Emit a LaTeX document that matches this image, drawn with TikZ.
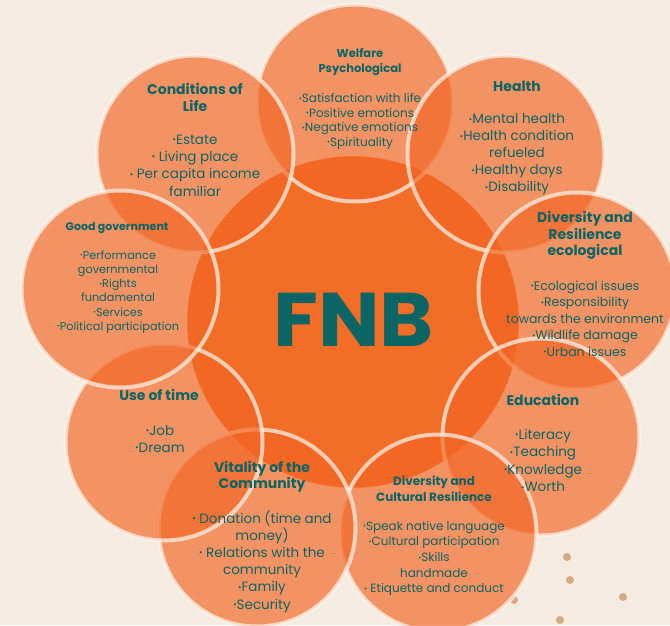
\documentclass[tikz,border=0pt]{standalone}
\usepackage{fontspec}
\setmainfont{Poppins}
\newfontfamily\fnbfont{Poppins}
\definecolor{bg}{HTML}{F5ECE1}
\definecolor{core}{HTML}{F26D25}
\definecolor{sat}{HTML}{F26522}
\definecolor{ringc}{HTML}{FBF3EA}
\definecolor{tealc}{HTML}{0B6565}
\definecolor{dotc}{HTML}{D9A886}
\newcommand{\fs}[2]{\fontsize{#1}{#2}\selectfont}
\newcommand{\bu}{\raisebox{0.12em}{\scalebox{0.62}{•}}}
\begin{document}
\begin{tikzpicture}[x=1pt,y=-1pt,
  satc/.style={circle,minimum size=197pt,inner sep=0pt,fill=sat,fill opacity=0.66,draw=ringc,draw opacity=0.72,line width=4pt},
  corec/.style={circle,minimum size=332pt,inner sep=0pt,fill=core,draw=ringc,draw opacity=0.45,line width=1pt},
  dotn/.style={circle,minimum size=8pt,inner sep=0pt,fill=dotc},
  ttl/.style={text=tealc,align=center,inner sep=0pt,font=\bfseries},
  itm/.style={text=tealc,align=center,inner sep=0pt}]
\fill[bg] (0,0) rectangle (670,625);
\useasboundingbox (0,0) rectangle (670,625);
\clip (0,0) rectangle (670,625);
% dots
\node[dotn] (d1) at (567,557) {};
\node[dotn] (d2) at (570,580) {};
\node[dotn] (d3) at (623,597) {};
\node[dotn] (d4) at (560,620) {};
\node[dotn] (d5) at (514,600) {};
% core
\node[corec] (core) at (353,322) {};
% satellites
\node[satc] (welf) at (355,103) {};
\node[satc] (cond) at (195,154) {};
\node[satc] (heal) at (506,154) {};
\node[satc] (deco) at (577,291) {};
\node[satc] (educ) at (541,437) {};
\node[satc] (dcul) at (438,533) {};
\node[satc] (vita) at (257,528) {};
\node[satc] (time) at (164,442) {};
\node[satc] (good) at (120,289) {};
% FNB
\node[text=tealc,inner sep=0pt,font=\fnbfont\bfseries\fs{76}{76}] (fnb) at (353.5,319.5) {\scalebox{1.08}[1]{FNB}};
% texts
\node[ttl,font=\bfseries\fs{11.5}{15}] (welft) at (360,62) {Welfare\\Psychological};
\node[itm,font=\fs{12}{14.6}] (welfi) at (360,121.5) {\bu Satisfaction with life\\\bu Positive emotions\\\bu Negative emotions\\\bu Spirituality};
\node[ttl,font=\bfseries\fs{14}{17}] (condt) at (195,97) {Conditions of\\Life};
\node[itm,font=\fs{13.5}{17.4}] (condi) at (195,165.5) {\bu Estate\\\bu{} Living place\\\bu{} Per capita income\\familiar};
\node[ttl,font=\bfseries\fs{14}{17}] (healt) at (517,86.5) {Health};
\node[itm,font=\fs{13.5}{17}] (heali) at (517,154.5) {\bu Mental health\\\bu Health condition\\refueled\\\bu Healthy days\\\bu Disability};
\node[ttl,font=\bfseries\fs{14}{16.7}] (decot) at (585,235.5) {Diversity and\\Resilience\\ecological};
\node[itm,font=\fs{12.5}{16.6}] (decoi) at (585,318.5) {\bu Ecological issues\\\bu Responsibility\\towards the environment\\\bu Wildlife damage\\\bu Urban issues};
\node[ttl,font=\bfseries\fs{14}{17}] (educt) at (543,399.5) {Education};
\node[itm,font=\fs{13.5}{17.4}] (educi) at (543,460.5) {\bu Literacy\\\bu Teaching\\\bu Knowledge\\\bu Worth};
\node[ttl,font=\bfseries\fs{12}{16}] (dcult) at (434,488.5) {Diversity and\\Cultural Resilience};
\node[itm,font=\fs{12}{15.6}] (dculi) at (434,558.5) {\bu Speak native language\\\bu Cultural participation\\\bu Skills\\handmade\\\bu{} Etiquette and conduct};
\node[ttl,font=\bfseries\fs{14}{16.5}] (vitat) at (262,476.5) {Vitality of the\\Community};
\node[itm,font=\fs{13.5}{17.2}] (vitai) at (262,561.5) {\bu{} Donation (time and\\money)\\\bu{} Relations with the\\community\\\bu Family\\\bu Security};
\node[ttl,font=\bfseries\fs{14}{17}] (timet) at (159,394.5) {Use of time};
\node[itm,font=\fs{13.5}{17}] (timei) at (160,439) {\bu Job\\\bu Dream};
\node[ttl,font=\bfseries\fs{11}{14}] (goodt) at (117,227.5) {Good government};
\node[itm,font=\fs{11.3}{14.2}] (goodi) at (118,292) {\bu Performance\\governmental\\\bu Rights\\fundamental\\\bu Services\\\bu Political participation};
\end{tikzpicture}
\end{document}
